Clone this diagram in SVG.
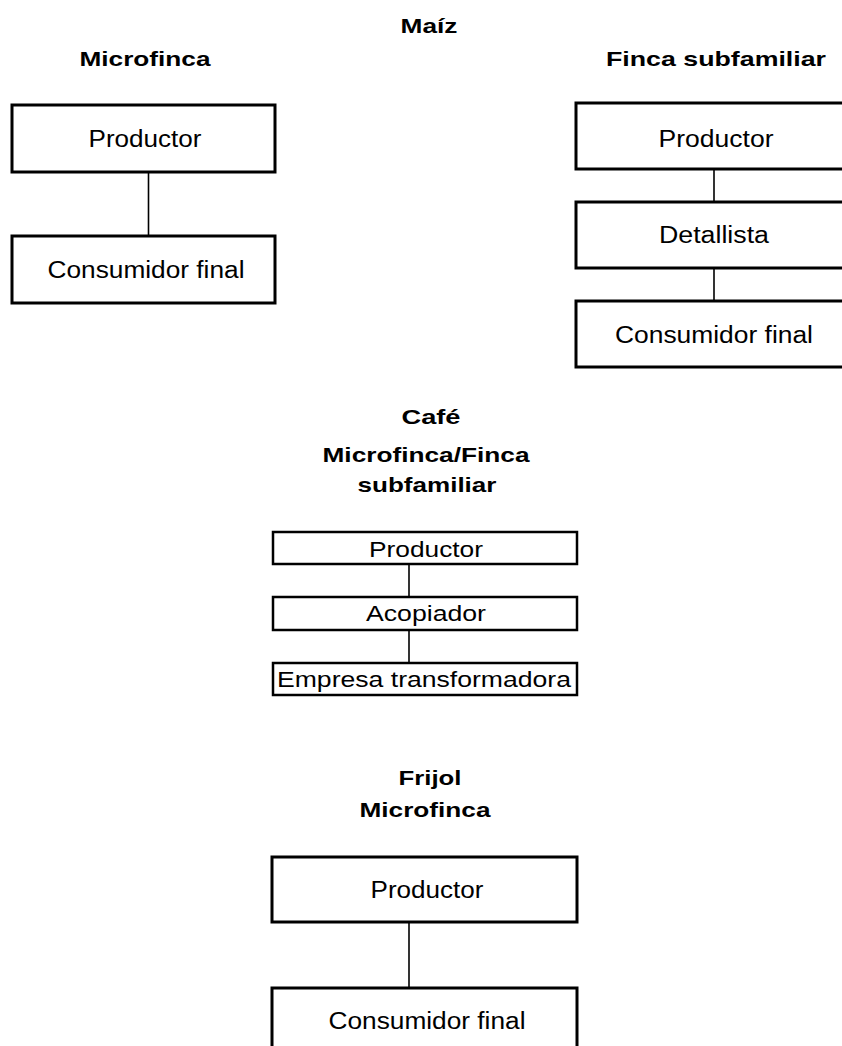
<svg xmlns="http://www.w3.org/2000/svg" width="842" height="1046" viewBox="0 0 842 1046">
<style>
.bg{fill:#ffffff}
.box{fill:#ffffff;stroke:#000000;stroke-width:3}
.boxm{fill:#ffffff;stroke:#000000;stroke-width:2.5}
.conn{stroke:#000000;stroke-width:1.6;fill:none}
.t{font-family:"Liberation Sans",Arial,sans-serif;font-size:23px;fill:#000000;text-anchor:middle}
.tm{font-family:"Liberation Sans",Arial,sans-serif;font-size:22px;fill:#000000;text-anchor:middle}
.h{font-family:"Liberation Sans",Arial,sans-serif;font-size:21px;font-weight:bold;fill:#000000;text-anchor:middle}
</style>
<rect class="bg" x="0" y="0" width="842" height="1046"/>
<g id="titles">
<text class="h" x="429" y="33" textLength="57" lengthAdjust="spacingAndGlyphs">Maíz</text>
<text class="h" x="145" y="66" textLength="131" lengthAdjust="spacingAndGlyphs">Microfinca</text>
<text class="h" x="716" y="66" textLength="220" lengthAdjust="spacingAndGlyphs">Finca subfamiliar</text>
<text class="h" x="431" y="424" textLength="59" lengthAdjust="spacingAndGlyphs">Café</text>
<text class="h" x="426" y="462" textLength="207" lengthAdjust="spacingAndGlyphs">Microfinca/Finca</text>
<text class="h" x="427" y="492" textLength="139" lengthAdjust="spacingAndGlyphs">subfamiliar</text>
<text class="h" x="430" y="785" textLength="63" lengthAdjust="spacingAndGlyphs">Frijol</text>
<text class="h" x="425" y="817" textLength="131" lengthAdjust="spacingAndGlyphs">Microfinca</text>
</g>
<g id="connectors">
<line class="conn" x1="148.5" y1="172" x2="148.5" y2="236"/>
<line class="conn" x1="714" y1="169" x2="714" y2="202"/>
<line class="conn" x1="714" y1="268" x2="714" y2="301"/>
<line class="conn" x1="409" y1="564" x2="409" y2="597"/>
<line class="conn" x1="409" y1="630" x2="409" y2="663"/>
<line class="conn" x1="409" y1="922" x2="409" y2="988"/>
</g>
<g id="maiz-micro-productor">
<rect class="box" x="12" y="105" width="263" height="67"/>
<text class="t" x="145" y="147" textLength="113" lengthAdjust="spacingAndGlyphs">Productor</text>
</g>
<g id="maiz-micro-consumidor">
<rect class="box" x="12" y="236" width="263" height="67"/>
<text class="t" x="146" y="278" textLength="197" lengthAdjust="spacingAndGlyphs">Consumidor final</text>
</g>
<g id="maiz-sub-productor">
<rect class="box" x="576" y="103" width="280" height="66"/>
<text class="t" x="716" y="147" textLength="115" lengthAdjust="spacingAndGlyphs">Productor</text>
</g>
<g id="maiz-sub-detallista">
<rect class="box" x="576" y="202" width="280" height="66"/>
<text class="t" x="714" y="243" textLength="110" lengthAdjust="spacingAndGlyphs">Detallista</text>
</g>
<g id="maiz-sub-consumidor">
<rect class="box" x="576" y="301" width="280" height="66"/>
<text class="t" x="714" y="343" textLength="198" lengthAdjust="spacingAndGlyphs">Consumidor final</text>
</g>
<g id="cafe-productor">
<rect class="boxm" x="273" y="532" width="304" height="32"/>
<text class="tm" x="426" y="557" textLength="114" lengthAdjust="spacingAndGlyphs">Productor</text>
</g>
<g id="cafe-acopiador">
<rect class="boxm" x="273" y="597" width="304" height="33"/>
<text class="tm" x="426" y="621" textLength="120" lengthAdjust="spacingAndGlyphs">Acopiador</text>
</g>
<g id="cafe-empresa">
<rect class="boxm" x="273" y="663" width="304" height="32"/>
<text class="tm" x="424" y="687" textLength="294" lengthAdjust="spacingAndGlyphs">Empresa transformadora</text>
</g>
<g id="frijol-productor">
<rect class="box" x="272" y="857" width="305" height="65"/>
<text class="t" x="427" y="898" textLength="113" lengthAdjust="spacingAndGlyphs">Productor</text>
</g>
<g id="frijol-consumidor">
<rect class="box" x="272" y="988" width="305" height="70"/>
<text class="t" x="427" y="1029" textLength="197" lengthAdjust="spacingAndGlyphs">Consumidor final</text>
</g>
</svg>
